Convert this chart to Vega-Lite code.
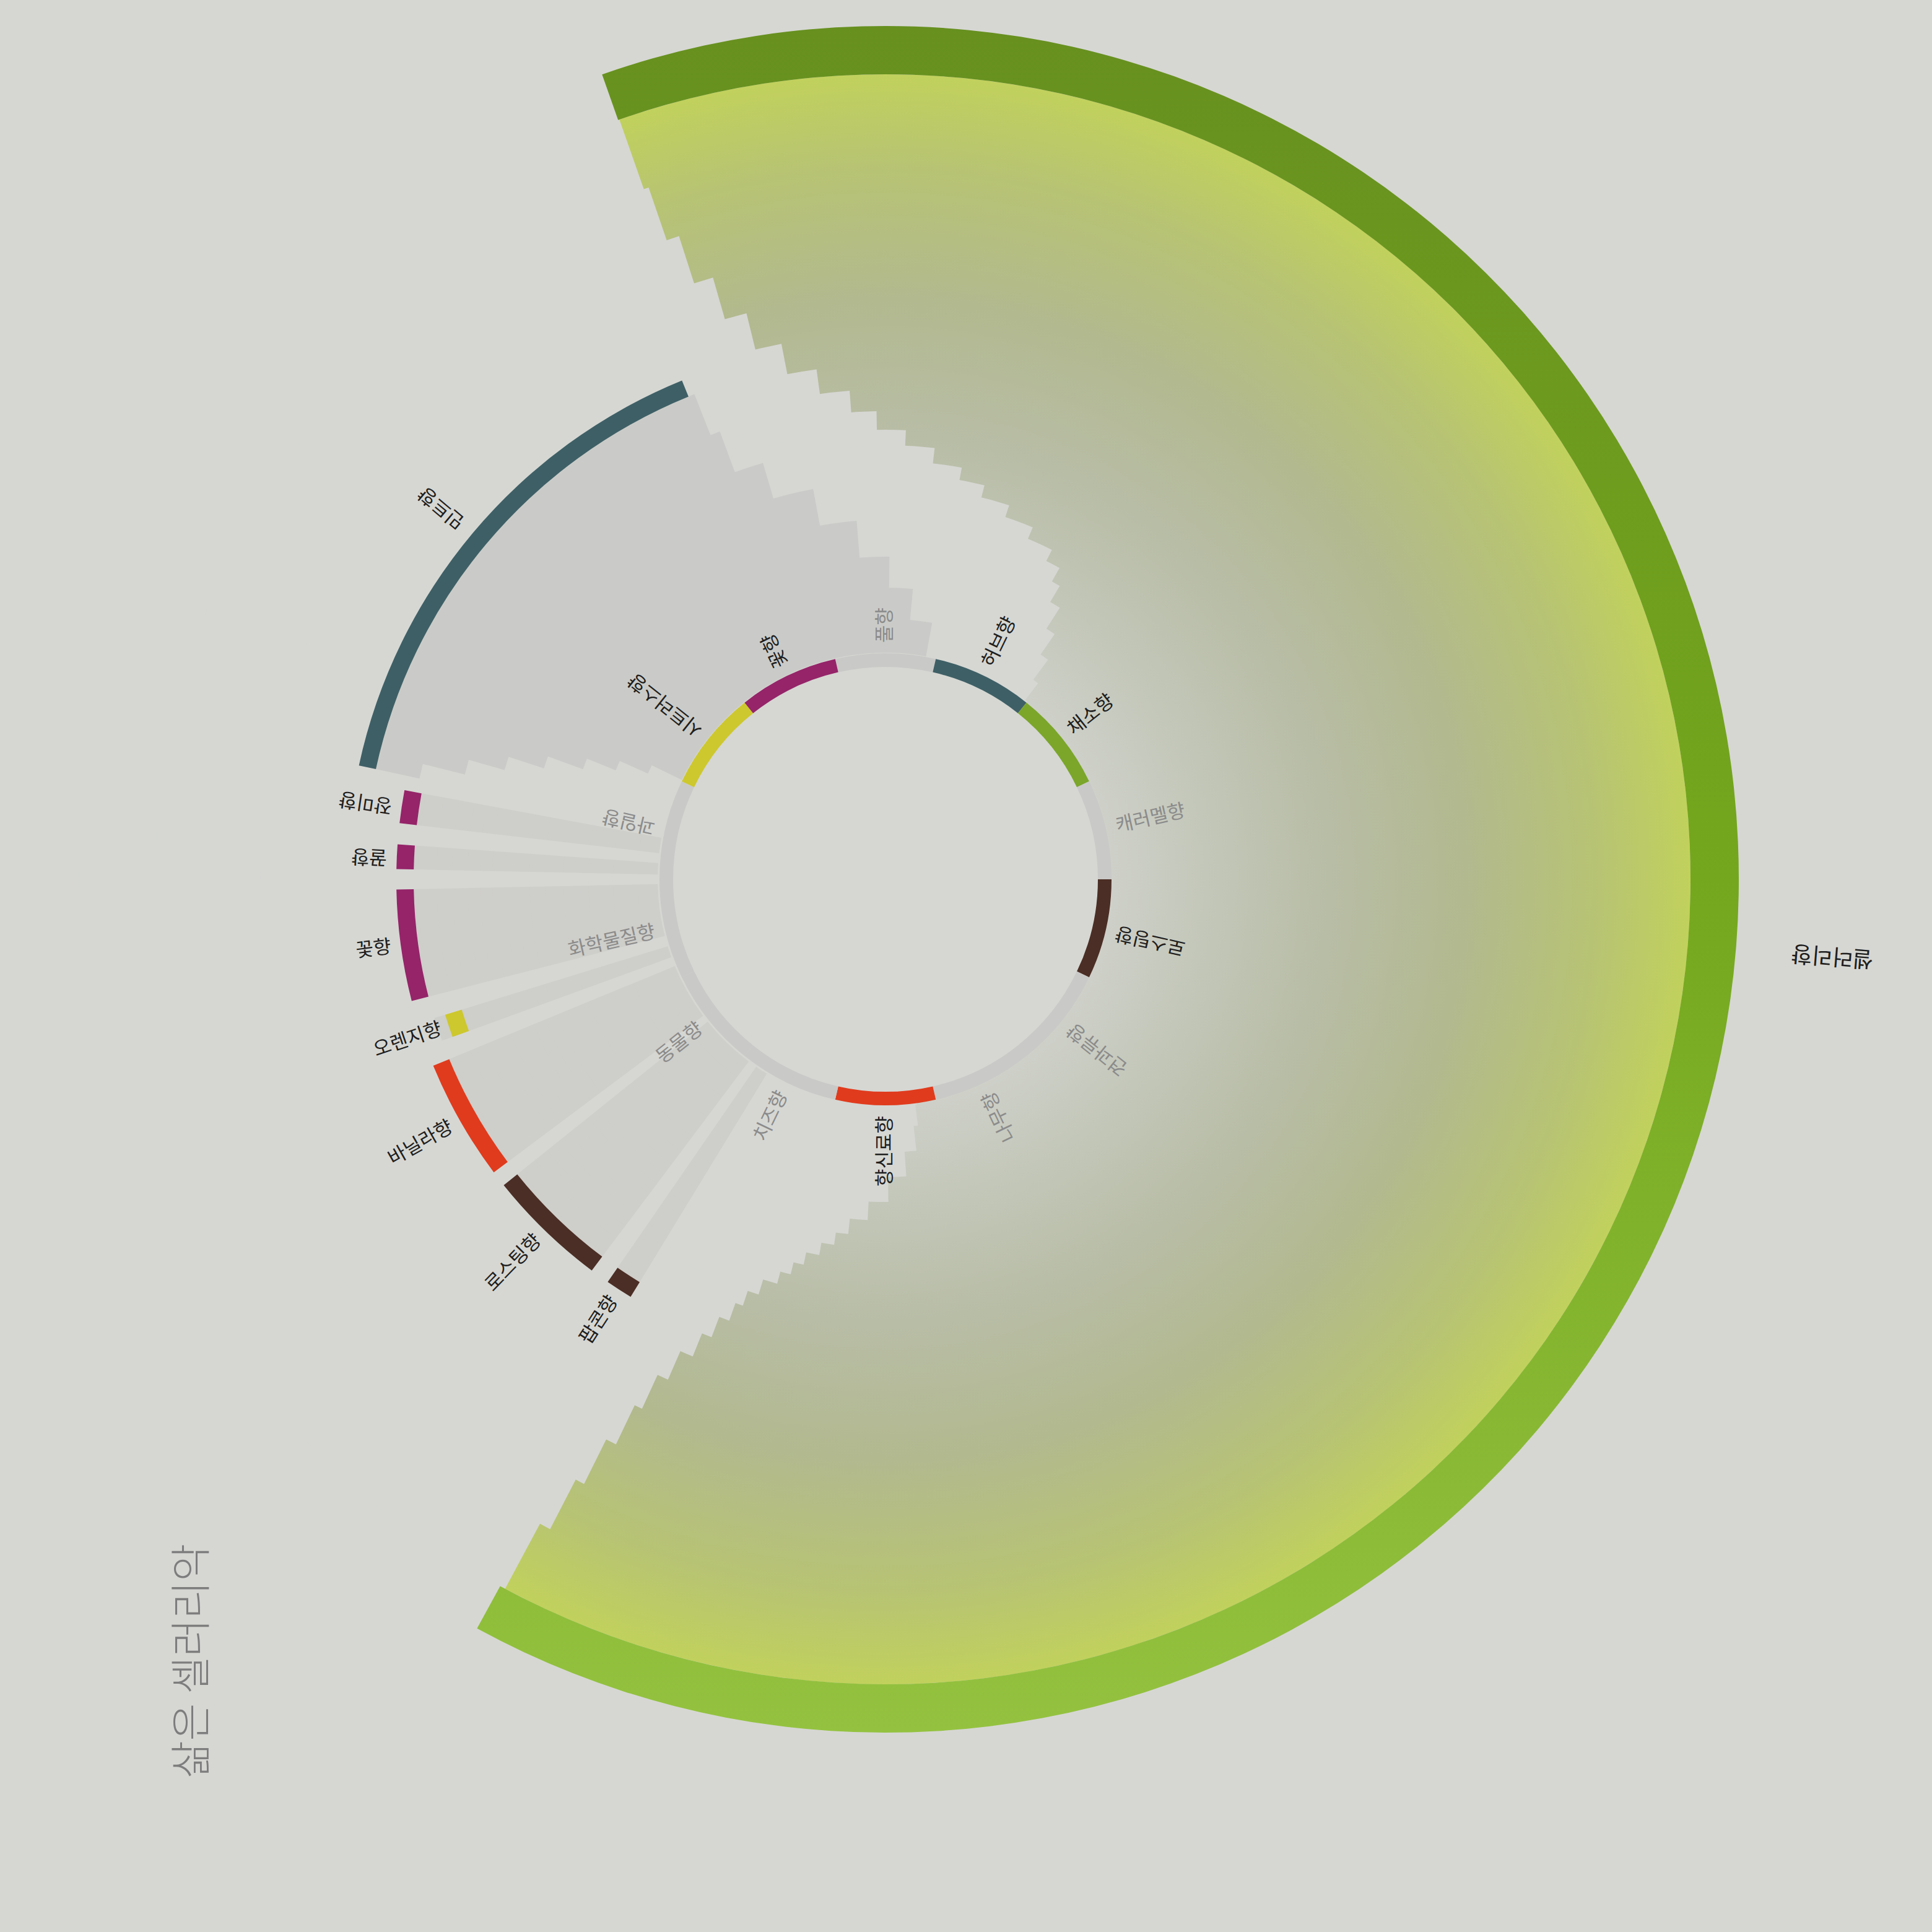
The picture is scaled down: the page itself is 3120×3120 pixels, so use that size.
{
  "$schema": "https://vega.github.io/schema/vega-lite/v6.json",
  "description": "삶은 셀러리악 flavor wheel",
  "width": 2140,
  "height": 2840,
  "autosize": "none",
  "padding": {"left": 360, "top": 0, "right": 620, "bottom": 280},
  "background": "#d6d7d3",
  "title": {
    "text": "삶은 셀러리악",
    "orient": "left",
    "anchor": "start",
    "offset": -220,
    "dx": -32,
    "fontSize": 66,
    "font": "Noto Sans CJK KR",
    "fontWeight": 300,
    "color": "#7d7d7d"
  },
  "datasets": {
    "cats": [
      {"cat": "풀향", "start": -12.86, "end": 12.86, "mid": 0, "active": false},
      {"cat": "허브향", "start": 12.86, "end": 38.57, "mid": 25.71, "active": true},
      {"cat": "채소향", "start": 38.57, "end": 64.29, "mid": 51.43, "active": true},
      {"cat": "캐러멜향", "start": 64.29, "end": 90, "mid": 77.14, "active": false},
      {"cat": "로스팅향", "start": 90, "end": 115.71, "mid": 102.86, "active": true},
      {"cat": "견과류향", "start": 115.71, "end": 141.43, "mid": 128.57, "active": false},
      {"cat": "나무향", "start": 141.43, "end": 167.14, "mid": 154.29, "active": false},
      {"cat": "향신료향", "start": 167.14, "end": 192.86, "mid": 180, "active": true},
      {"cat": "치즈향", "start": 192.86, "end": 218.57, "mid": 205.71, "active": false},
      {"cat": "동물향", "start": 218.57, "end": 244.29, "mid": 231.43, "active": false},
      {"cat": "화학물질향", "start": 244.29, "end": 270, "mid": 257.14, "active": false},
      {"cat": "과일향", "start": 270, "end": 295.71, "mid": 282.86, "active": false},
      {"cat": "시트러스향", "start": 295.71, "end": 321.43, "mid": 308.57, "active": true},
      {"cat": "꽃향", "start": 321.43, "end": 347.14, "mid": 334.29, "active": true}
    ],
    "aromas": [
      {"aroma": "민트향", "cat": "허브향", "start": 282.2, "end": 337.8, "mid": 310.0},
      {"aroma": "장미향", "cat": "꽃향", "start": 276.6, "end": 280.5, "mid": 278.5},
      {"aroma": "꿀향", "cat": "꽃향", "start": 271.2, "end": 274.1, "mid": 272.6},
      {"aroma": "꽃향", "cat": "꽃향", "start": 255.6, "end": 268.8, "mid": 262.2},
      {"aroma": "오렌지향", "cat": "시트러스향", "start": 250.0, "end": 252.9, "mid": 251.4},
      {"aroma": "바닐라향", "cat": "향신료향", "start": 233.2, "end": 247.6, "mid": 240.4},
      {"aroma": "로스팅향", "cat": "로스팅향", "start": 216.9, "end": 231.3, "mid": 224.1},
      {"aroma": "팝콘향", "cat": "로스팅향", "start": 211.4, "end": 214.6, "mid": 213.0},
      {"aroma": "셀러리향", "cat": "채소향", "start": -19.4, "end": 208.6, "mid": 94.6}
    ],
    "outsideCelery": [
      {"inner": 0, "outer": 26.5, "from": 0, "to": 360},
      {"inner": 26.3, "outer": 28.23, "from": 172, "to": 398.6},
      {"inner": 28.15, "outer": 30.85, "from": 172.5, "to": 397.9},
      {"inner": 30.77, "outer": 33.93, "from": 173.5, "to": 396.5},
      {"inner": 33.85, "outer": 37.0, "from": 176, "to": 394.6},
      {"inner": 36.92, "outer": 40.08, "from": 179.5, "to": 392.7},
      {"inner": 40.0, "outer": 42.39, "from": 183, "to": 390.7},
      {"inner": 42.31, "outer": 44.31, "from": 186, "to": 389.2},
      {"inner": 44.23, "outer": 45.85, "from": 188, "to": 386.8},
      {"inner": 45.77, "outer": 47.39, "from": 190, "to": 382.7},
      {"inner": 47.31, "outer": 48.93, "from": 192, "to": 378.3},
      {"inner": 48.85, "outer": 50.46, "from": 193.5, "to": 374.1},
      {"inner": 50.38, "outer": 52.0, "from": 195, "to": 370.5},
      {"inner": 51.92, "outer": 53.93, "from": 197, "to": 366.5},
      {"inner": 53.85, "outer": 55.85, "from": 198.5, "to": 362.6},
      {"inner": 55.77, "outer": 58.16, "from": 199.5, "to": 358.9},
      {"inner": 58.08, "outer": 60.85, "from": 200.8, "to": 355.8},
      {"inner": 60.77, "outer": 63.93, "from": 202, "to": 352.3},
      {"inner": 63.85, "outer": 67.77, "from": 203.5, "to": 349},
      {"inner": 67.69, "outer": 72.39, "from": 204.7, "to": 346.2},
      {"inner": 72.31, "outer": 77.77, "from": 205.5, "to": 344},
      {"inner": 77.69, "outer": 83.93, "from": 206.5, "to": 342.2},
      {"inner": 83.85, "outer": 90.85, "from": 207.3, "to": 341.1},
      {"inner": 90.77, "outer": 100.3, "from": 208.2, "to": 340.7}
    ],
    "mintRibbon": [
      {"inner": 28.15, "outer": 32.38, "from": 296, "to": 370.3},
      {"inner": 32.31, "outer": 36.23, "from": 294, "to": 365.4},
      {"inner": 36.15, "outer": 40.08, "from": 292, "to": 360.7},
      {"inner": 40.0, "outer": 44.69, "from": 290, "to": 355.4},
      {"inner": 44.62, "outer": 49.31, "from": 288, "to": 349.5},
      {"inner": 49.23, "outer": 53.93, "from": 286, "to": 343.6},
      {"inner": 53.85, "outer": 59.31, "from": 284, "to": 339.7},
      {"inner": 59.23, "outer": 64.77, "from": 282.2, "to": 338.5}
    ]
  },
  "layer": [
    {
      "data": {"values": [{"part": "disc"}]},
      "mark": {
        "type": "arc",
        "innerRadius": 0,
        "outerRadius": 1300,
        "color": {
          "gradient": "radial",
          "x1": 0.5, "y1": 0.5, "r1": 0,
          "x2": 0.5, "y2": 0.5, "r2": 0.5,
          "stops": [
            {"offset": 0, "color": "#d6d7d3"},
            {"offset": 0.27, "color": "#cfd1ca"},
            {"offset": 0.4, "color": "#c3c7b9"},
            {"offset": 0.55, "color": "#b8bda6"},
            {"offset": 0.72, "color": "#b2b98f"},
            {"offset": 0.88, "color": "#b7c374"},
            {"offset": 1, "color": "#c1d15c"}
          ]
        }
      },
      "encoding": {
        "theta": {"datum": 0, "type": "quantitative", "scale": {"domain": [0, 360], "range": [0, 6.283185307179586]}},
        "theta2": {"datum": 360}
      }
    },
    {
      "data": {"name": "outsideCelery"},
      "mark": {"type": "arc", "color": "#d6d7d3"},
      "encoding": {
        "theta": {"field": "from", "type": "quantitative", "scale": {"domain": [0, 360], "range": [0, 6.283185307179586]}, "stack": null},
        "theta2": {"field": "to"},
        "radius": {"field": "outer", "type": "quantitative", "scale": {"type": "linear", "zero": true, "domain": [0, 100], "range": [0, 1300]}},
        "radius2": {"field": "inner"}
      }
    },
    {
      "data": {"name": "mintRibbon"},
      "mark": {"type": "arc", "color": "#cacbc8"},
      "encoding": {
        "theta": {"field": "from", "type": "quantitative", "scale": {"domain": [0, 360], "range": [0, 6.283185307179586]}, "stack": null},
        "theta2": {"field": "to"},
        "radius": {"field": "outer", "type": "quantitative", "scale": {"type": "linear", "zero": true, "domain": [0, 100], "range": [0, 1300]}},
        "radius2": {"field": "inner"}
      }
    },
    {
      "data": {"name": "aromas"},
      "transform": [{"filter": "datum.aroma != '민트향' && datum.aroma != '셀러리향'"}],
      "mark": {"type": "arc", "innerRadius": 368, "outerRadius": 762, "color": "#b8b4b0", "opacity": 0.25},
      "encoding": {
        "theta": {"field": "start", "type": "quantitative", "scale": {"domain": [0, 360], "range": [0, 6.283185307179586]}, "stack": null},
        "theta2": {"field": "end"}
      }
    },
    {
      "data": {"name": "aromas"},
      "transform": [{"filter": "datum.aroma == '셀러리향'"}],
      "mark": {
        "type": "arc",
        "innerRadius": 1300,
        "outerRadius": 1378,
        "color": {
          "gradient": "linear",
          "x1": 0, "y1": 0, "x2": 0, "y2": 1,
          "stops": [
            {"offset": 0, "color": "#67901f"},
            {"offset": 0.5, "color": "#74a71d"},
            {"offset": 1, "color": "#94c240"}
          ]
        }
      },
      "encoding": {
        "theta": {"field": "start", "type": "quantitative", "scale": {"domain": [0, 360], "range": [0, 6.283185307179586]}, "stack": null},
        "theta2": {"field": "end"}
      }
    },
    {
      "data": {"name": "cats"},
      "mark": {"type": "arc", "innerRadius": 343, "outerRadius": 365},
      "encoding": {
        "theta": {"field": "start", "type": "quantitative", "scale": {"domain": [0, 360], "range": [0, 6.283185307179586]}, "stack": null},
        "theta2": {"field": "end"},
        "color": {
          "field": "cat",
          "type": "nominal",
          "legend": null,
          "scale": {
            "domain": ["풀향", "허브향", "채소향", "캐러멜향", "로스팅향", "견과류향", "나무향", "향신료향", "치즈향", "동물향", "화학물질향", "과일향", "시트러스향", "꽃향"],
            "range": ["#c9c9c7", "#3e5f66", "#7ba62a", "#c9c9c7", "#4b2e25", "#c9c9c7", "#c9c9c7", "#e03b1d", "#c9c9c7", "#c9c9c7", "#c9c9c7", "#c9c9c7", "#cdc82d", "#952469"]
          }
        }
      }
    },
    {
      "data": {"name": "aromas"},
      "transform": [{"filter": "datum.aroma == '민트향'"}],
      "mark": {"type": "arc", "innerRadius": 842, "outerRadius": 870},
      "encoding": {
        "theta": {"field": "start", "type": "quantitative", "scale": {"domain": [0, 360], "range": [0, 6.283185307179586]}, "stack": null},
        "theta2": {"field": "end"},
        "color": {"field": "cat", "type": "nominal", "legend": null}
      }
    },
    {
      "data": {"name": "aromas"},
      "transform": [{"filter": "datum.aroma == '오렌지향'"}],
      "mark": {"type": "arc", "innerRadius": 716, "outerRadius": 744},
      "encoding": {
        "theta": {"field": "start", "type": "quantitative", "scale": {"domain": [0, 360], "range": [0, 6.283185307179586]}, "stack": null},
        "theta2": {"field": "end"},
        "color": {"field": "cat", "type": "nominal", "legend": null}
      }
    },
    {
      "data": {"name": "aromas"},
      "transform": [{"filter": "datum.aroma != '민트향' && datum.aroma != '오렌지향' && datum.aroma != '셀러리향'"}],
      "mark": {"type": "arc", "innerRadius": 762, "outerRadius": 790},
      "encoding": {
        "theta": {"field": "start", "type": "quantitative", "scale": {"domain": [0, 360], "range": [0, 6.283185307179586]}, "stack": null},
        "theta2": {"field": "end"},
        "color": {"field": "cat", "type": "nominal", "legend": null}
      }
    },
    {
      "data": {"name": "cats"},
      "transform": [{"filter": "datum.mid < 90 || datum.mid > 270"}],
      "mark": {"type": "text", "radius": 382, "align": "left", "baseline": "middle", "fontSize": 31, "font": "Noto Sans CJK KR"},
      "encoding": {
        "theta": {"field": "mid", "type": "quantitative", "scale": {"domain": [0, 360], "range": [0, 6.283185307179586]}, "stack": null},
        "angle": {"field": "mid", "type": "quantitative", "scale": {"domain": [0, 360], "range": [-90, 270]}},
        "text": {"field": "cat"},
        "color": {"condition": {"test": "datum.active", "value": "#1e1e1e"}, "value": "#8b8b8b"}
      }
    },
    {
      "data": {"name": "cats"},
      "transform": [{"filter": "datum.mid >= 90 && datum.mid <= 270"}],
      "mark": {"type": "text", "radius": 382, "align": "right", "baseline": "middle", "fontSize": 31, "font": "Noto Sans CJK KR"},
      "encoding": {
        "theta": {"field": "mid", "type": "quantitative", "scale": {"domain": [0, 360], "range": [0, 6.283185307179586]}, "stack": null},
        "angle": {"field": "mid", "type": "quantitative", "scale": {"domain": [0, 360], "range": [90, 450]}},
        "text": {"field": "cat"},
        "color": {"condition": {"test": "datum.active", "value": "#1e1e1e"}, "value": "#8b8b8b"}
      }
    },
    {
      "data": {"name": "aromas"},
      "transform": [{"filter": "datum.aroma == '민트향'"}],
      "mark": {"type": "text", "radius": 892, "align": "left", "baseline": "middle", "fontSize": 31, "font": "Noto Sans CJK KR", "color": "#1e1e1e"},
      "encoding": {
        "theta": {"field": "mid", "type": "quantitative", "scale": {"domain": [0, 360], "range": [0, 6.283185307179586]}, "stack": null},
        "angle": {"field": "mid", "type": "quantitative", "scale": {"domain": [0, 360], "range": [-90, 270]}},
        "text": {"field": "aroma"}
      }
    },
    {
      "data": {"name": "aromas"},
      "transform": [{"filter": "datum.aroma == '장미향' || datum.aroma == '꿀향'"}],
      "mark": {"type": "text", "radius": 806, "align": "left", "baseline": "middle", "fontSize": 31, "font": "Noto Sans CJK KR", "color": "#1e1e1e"},
      "encoding": {
        "theta": {"field": "mid", "type": "quantitative", "scale": {"domain": [0, 360], "range": [0, 6.283185307179586]}, "stack": null},
        "angle": {"field": "mid", "type": "quantitative", "scale": {"domain": [0, 360], "range": [-90, 270]}},
        "text": {"field": "aroma"}
      }
    },
    {
      "data": {"name": "aromas"},
      "transform": [{"filter": "datum.aroma == '오렌지향'"}],
      "mark": {"type": "text", "radius": 757, "align": "right", "baseline": "middle", "fontSize": 31, "font": "Noto Sans CJK KR", "color": "#1e1e1e"},
      "encoding": {
        "theta": {"field": "mid", "type": "quantitative", "scale": {"domain": [0, 360], "range": [0, 6.283185307179586]}, "stack": null},
        "angle": {"field": "mid", "type": "quantitative", "scale": {"domain": [0, 360], "range": [90, 450]}},
        "text": {"field": "aroma"}
      }
    },
    {
      "data": {"name": "aromas"},
      "transform": [{"filter": "datum.aroma == '꽃향' || datum.aroma == '바닐라향' || datum.aroma == '로스팅향' || datum.aroma == '팝콘향'"}],
      "mark": {"type": "text", "radius": 806, "align": "right", "baseline": "middle", "fontSize": 31, "font": "Noto Sans CJK KR", "color": "#1e1e1e"},
      "encoding": {
        "theta": {"field": "mid", "type": "quantitative", "scale": {"domain": [0, 360], "range": [0, 6.283185307179586]}, "stack": null},
        "angle": {"field": "mid", "type": "quantitative", "scale": {"domain": [0, 360], "range": [90, 450]}},
        "text": {"field": "aroma"}
      }
    },
    {
      "data": {"name": "aromas"},
      "transform": [{"filter": "datum.aroma == '셀러리향'"}],
      "mark": {"type": "text", "radius": 1468, "align": "right", "baseline": "middle", "fontSize": 36, "font": "Noto Sans CJK KR", "color": "#1e1e1e"},
      "encoding": {
        "theta": {"field": "mid", "type": "quantitative", "scale": {"domain": [0, 360], "range": [0, 6.283185307179586]}, "stack": null},
        "angle": {"field": "mid", "type": "quantitative", "scale": {"domain": [0, 360], "range": [90, 450]}},
        "text": {"field": "aroma"}
      }
    }
  ],
  "resolve": {"scale": {"angle": "independent"}},
  "config": {"view": {"stroke": null}}
}
